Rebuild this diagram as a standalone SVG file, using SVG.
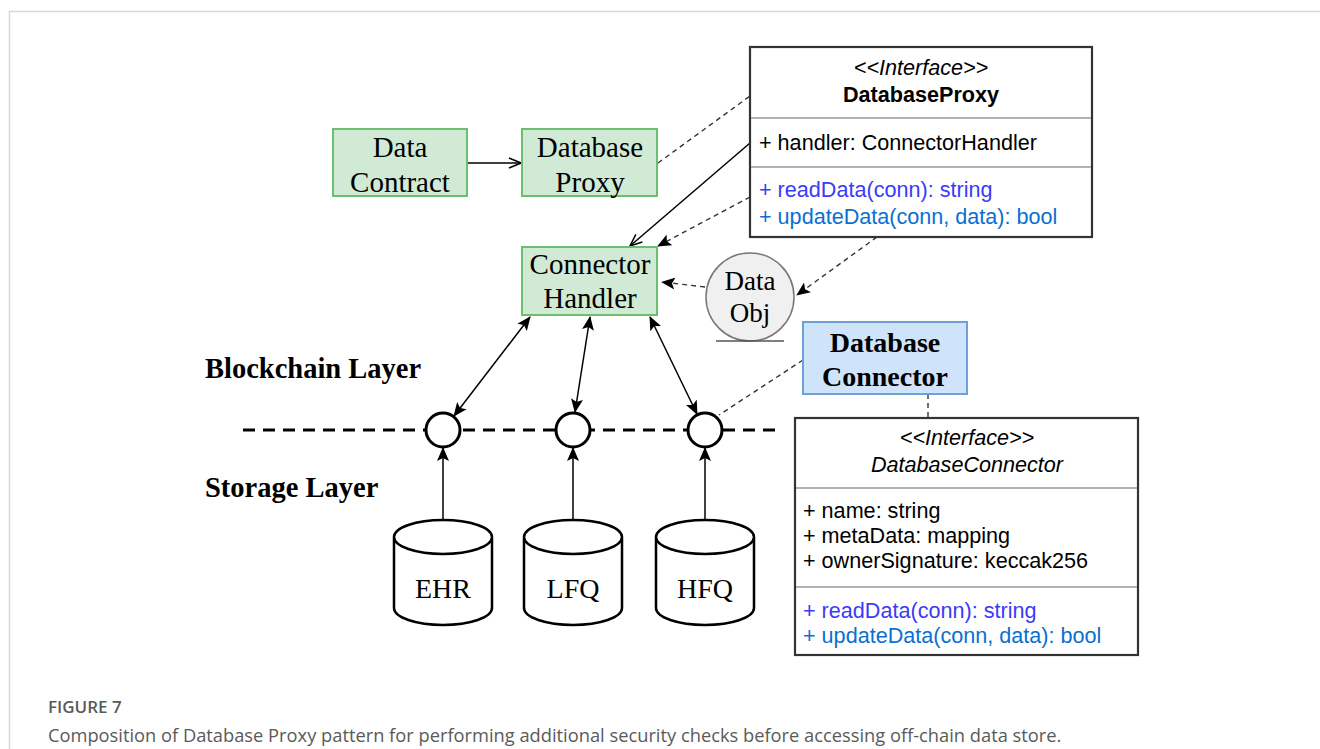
<svg xmlns="http://www.w3.org/2000/svg" width="1320" height="749" viewBox="0 0 1320 749">
<defs>
<style>
.serif{font-family:"Liberation Serif","Times New Roman",serif;fill:#000}
.sans{font-family:"Liberation Sans",Arial,sans-serif;fill:#000;font-size:21.6px}
.green{fill:#d1ead5;stroke:#6cbf6e;stroke-width:2}
.blue{fill:#cfe4fa;stroke:#6ea0d8;stroke-width:2}
.uml{fill:#fff;stroke:#333;stroke-width:2.2}
.sep{stroke:#999;stroke-width:1.5}
.dash{fill:none;stroke:#333;stroke-width:1.4;stroke-dasharray:5 4}
.solid{fill:none;stroke:#000;stroke-width:1.5}
.m1{fill:#3b3bf5}
.m2{fill:#0b6fd1}
.cyl{fill:#fff;stroke:#000;stroke-width:2.5}
.port{fill:#fff;stroke:#000;stroke-width:3}
.cap{font-family:"Open Sans","Noto Sans",sans-serif;fill:#5a5a5a}
</style>
<marker id="open" viewBox="0 0 14 12" refX="13" refY="6" markerWidth="14" markerHeight="12" markerUnits="userSpaceOnUse" orient="auto">
<path d="M1,1 L13,6 L1,11" fill="none" stroke="#000" stroke-width="1.5"/>
</marker>
<marker id="fill" viewBox="0 0 14 12" refX="13" refY="6" markerWidth="14" markerHeight="12" markerUnits="userSpaceOnUse" orient="auto-start-reverse">
<path d="M0,0 L14,6 L0,12 L3,6 z" fill="#000"/>
</marker>
</defs>
<rect width="1320" height="749" fill="#fff"/>
<path d="M9.5,749 V11.5 H1320" fill="none" stroke="#d6d6d6" stroke-width="1.5"/>

<g id="layer-line">
<line x1="243" y1="430" x2="777" y2="430" stroke="#000" stroke-width="3" stroke-dasharray="12 8"/>
</g>

<g id="connectors">
<line class="solid" x1="467" y1="163" x2="521" y2="163" marker-end="url(#open)"/>
<line class="dash" x1="658" y1="163" x2="750" y2="96"/>
<line class="solid" x1="750" y1="143" x2="630" y2="246" marker-end="url(#open)"/>
<line class="dash" x1="750" y1="197" x2="658" y2="246" marker-end="url(#fill)"/>
<line class="dash" x1="877" y1="237" x2="797" y2="295" marker-end="url(#fill)"/>
<line class="dash" x1="705" y1="287" x2="662" y2="282" marker-end="url(#fill)"/>
<line class="dash" x1="803" y1="360" x2="719" y2="415"/>
<line class="dash" x1="928" y1="394" x2="928" y2="418"/>
<line class="solid" x1="530" y1="317" x2="454" y2="416" marker-start="url(#fill)" marker-end="url(#fill)"/>
<line class="solid" x1="590" y1="317" x2="575" y2="412" marker-start="url(#fill)" marker-end="url(#fill)"/>
<line class="solid" x1="650" y1="317" x2="697" y2="414" marker-start="url(#fill)" marker-end="url(#fill)"/>
<line class="solid" x1="443" y1="520" x2="443" y2="448" marker-end="url(#fill)"/>
<line class="solid" x1="573" y1="520" x2="573" y2="448" marker-end="url(#fill)"/>
<line class="solid" x1="705" y1="520" x2="705" y2="448" marker-end="url(#fill)"/>
</g>

<g id="data-contract">
<rect class="green" x="333" y="129" width="134" height="67"/>
<text class="serif" font-size="29" text-anchor="middle"><tspan x="400" y="157">Data</tspan><tspan x="400" y="192">Contract</tspan></text>
</g>

<g id="database-proxy">
<rect class="green" x="522" y="129" width="135" height="67"/>
<text class="serif" font-size="29" text-anchor="middle"><tspan x="590" y="157">Database</tspan><tspan x="590" y="192">Proxy</tspan></text>
</g>

<g id="connector-handler">
<rect class="green" x="522" y="247" width="135" height="68"/>
<text class="serif" font-size="29" text-anchor="middle"><tspan x="590" y="274">Connector</tspan><tspan x="590" y="308">Handler</tspan></text>
</g>

<g id="data-obj">
<circle cx="750" cy="297" r="44" fill="#f0f0f0" stroke="#777" stroke-width="1.5"/>
<line x1="716" y1="341" x2="784" y2="341" stroke="#555" stroke-width="1.5"/>
<text class="serif" font-size="27" text-anchor="middle"><tspan x="750" y="290">Data</tspan><tspan x="750" y="322">Obj</tspan></text>
</g>

<g id="database-connector">
<rect class="blue" x="803" y="322" width="164" height="72"/>
<text class="serif" font-size="28" font-weight="bold" text-anchor="middle"><tspan x="885" y="352">Database</tspan><tspan x="885" y="386">Connector</tspan></text>
</g>

<g id="iface-databaseproxy">
<rect class="uml" x="750" y="47" width="342" height="190"/>
<line class="sep" x1="751" y1="118" x2="1091" y2="118"/>
<line class="sep" x1="751" y1="167" x2="1091" y2="167"/>
<text class="sans" font-style="italic" text-anchor="middle" x="921" y="75">&lt;&lt;Interface&gt;&gt;</text>
<text class="sans" font-weight="bold" text-anchor="middle" x="921" y="102">DatabaseProxy</text>
<text class="sans" x="759" y="150">+ handler: ConnectorHandler</text>
<text class="sans m1" x="759" y="197">+ readData(conn): string</text>
<text class="sans m2" x="759" y="224">+ updateData(conn, data): bool</text>
</g>

<g id="iface-databaseconnector">
<rect class="uml" x="795" y="418" width="343" height="237"/>
<line class="sep" x1="796" y1="488" x2="1137" y2="488"/>
<line class="sep" x1="796" y1="587" x2="1137" y2="587"/>
<text class="sans" font-style="italic" text-anchor="middle" x="967" y="445">&lt;&lt;Interface&gt;&gt;</text>
<text class="sans" font-style="italic" text-anchor="middle" x="967" y="472">DatabaseConnector</text>
<text class="sans" x="803" y="518">+ name: string</text>
<text class="sans" x="803" y="543">+ metaData: mapping</text>
<text class="sans" x="803" y="568">+ ownerSignature: keccak256</text>
<text class="sans m1" x="803" y="618">+ readData(conn): string</text>
<text class="sans m2" x="803" y="643">+ updateData(conn, data): bool</text>
</g>

<g id="labels">
<text class="serif" font-size="28.5" font-weight="bold" x="205" y="378">Blockchain Layer</text>
<text class="serif" font-size="28.5" font-weight="bold" x="205" y="497">Storage Layer</text>
</g>

<g id="port-ehr"><circle class="port" cx="443" cy="430" r="17"/></g>
<g id="port-lfq"><circle class="port" cx="573" cy="430" r="17"/></g>
<g id="port-hfq"><circle class="port" cx="705" cy="430" r="17"/></g>

<g id="db-ehr">
<path class="cyl" d="M394,537 a49,17 0 0,1 98,0 v71 a49,17 0 0,1 -98,0 z M394,537 a49,17 0 0,0 98,0"/>
<text class="serif" font-size="28" text-anchor="middle" x="443" y="598">EHR</text>
</g>
<g id="db-lfq">
<path class="cyl" d="M524,537 a49,17 0 0,1 98,0 v71 a49,17 0 0,1 -98,0 z M524,537 a49,17 0 0,0 98,0"/>
<text class="serif" font-size="28" text-anchor="middle" x="573" y="598">LFQ</text>
</g>
<g id="db-hfq">
<path class="cyl" d="M656,537 a49,17 0 0,1 98,0 v71 a49,17 0 0,1 -98,0 z M656,537 a49,17 0 0,0 98,0"/>
<text class="serif" font-size="28" text-anchor="middle" x="705" y="598">HFQ</text>
</g>

<g id="caption">
<text class="cap" font-size="17" font-weight="600" x="48" y="713">FIGURE 7</text>
<text class="cap" font-size="18.3" x="48" y="742">Composition of Database Proxy pattern for performing additional security checks before accessing off-chain data store.</text>
</g>
</svg>
